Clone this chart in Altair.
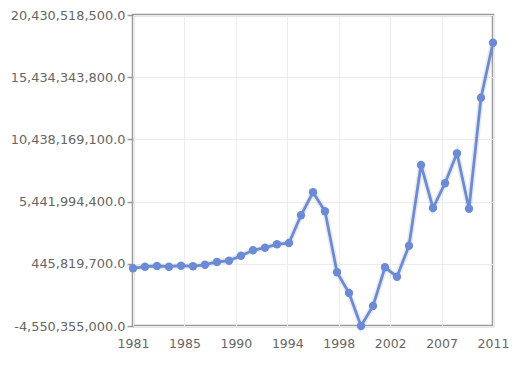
import altair as alt
import pandas as pd

years = list(range(1981, 2012))
values = [
    85e6, 213e6, 269e6, 213e6, 293e6, 245e6, 374e6, 590e6, 695e6, 1096e6,
    1530e6, 1739e6, 2012e6, 2117e6, 4341e6, 6189e6, 4663e6, -237e6, -1899e6, -4550355000,
    -2944e6, 165e6, -590e6, 1900e6, 8382e6, 4928e6, 6912e6, 9321e6, 4872e6, 13788e6,
    18205e6,
]
y_ticks = [-4550355000, 445819700, 5441994400, 10438169100, 15434343800, 20430518500]
x_ticks = [1981 + 30 * i / 7 for i in range(8)]

df = pd.DataFrame({"year": years, "value": values})

x = alt.X("year:Q", scale=alt.Scale(domain=[1981, 2011], nice=False, zero=False),
          axis=alt.Axis(values=x_ticks, format=".0f", title=None, ticks=False, domain=False,
                        labelFontSize=12.5, labelColor="#666666", labelFont="DejaVu Sans",
                        labelPadding=11, gridColor="#ececec", labelFlush=False))
y = alt.Y("value:Q", scale=alt.Scale(domain=[-4550355000, 20430518500], nice=False, zero=False),
          axis=alt.Axis(values=y_ticks, title=None, domain=False,
                        labelExpr="replace(format(datum.value, ',.1f'), '\u2212', '-')",
                        tickSize=6, tickColor="#999999", tickWidth=1.5,
                        labelFontSize=12.9, labelColor="#666666", labelFont="DejaVu Sans",
                        labelPadding=2, gridColor="#ececec"))

base = alt.Chart(df)
shadow = base.mark_line(color="#000000", opacity=0.08, strokeWidth=6).encode(x=x, y=y)
line = base.mark_line(color="#6b8bd6", strokeWidth=2.8).encode(x=x, y=y)
pts = base.mark_circle(color="#6b8bd6", size=70, opacity=1).encode(x=x, y=y)

chart = (shadow + line + pts).properties(
    width=360, height=311,
    autosize=alt.AutoSizeParams(type="none"),
    padding={"left": 125, "top": 7, "right": 16, "bottom": 26},
).configure_view(stroke="#999999", strokeWidth=2.5)

chart.save("out.html", embed_options={"renderer": "svg", "actions": False})
